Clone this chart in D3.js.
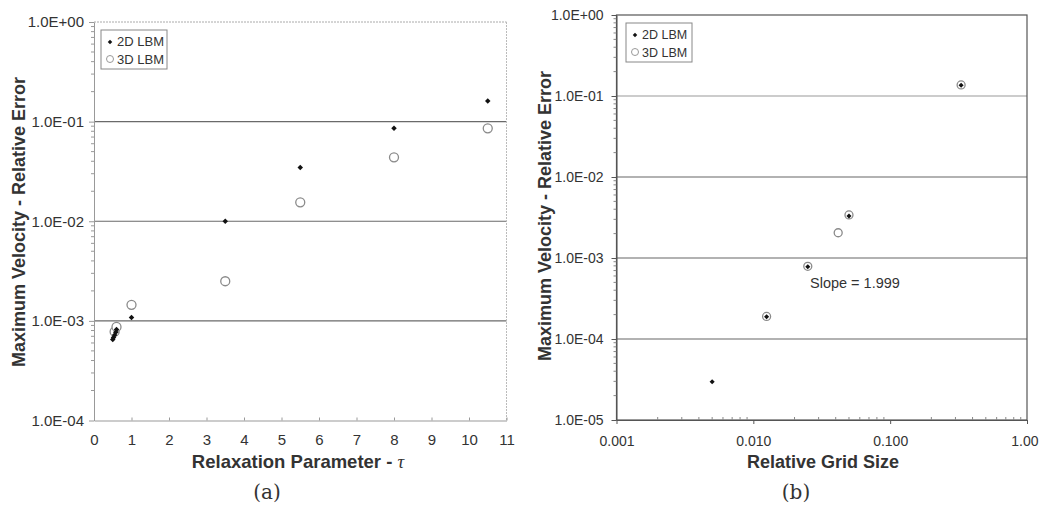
<!DOCTYPE html>
<html>
<head>
<meta charset="utf-8">
<script src="https://cdn.jsdelivr.net/npm/d3@7"></script>
<style>
  body { margin:0; background:#fff; }
  svg text { font-family: Arial, "Liberation Sans", sans-serif; }
</style>
</head>
<body>
<svg id="drawing_region"></svg>
<script>
// (a) error vs relaxation parameter
const tau2D = [0.5, 0.52, 0.55, 0.58, 0.6, 1, 3.5, 5.5, 8, 10.5];
const err2D_a = [0.00065, 0.00068, 0.00072, 0.00077, 0.00082, 0.00108, 0.0100, 0.0347, 0.0857, 0.161];
const tau3D = [0.55, 0.6, 1, 3.5, 5.5, 8, 10.5];
const err3D_a = [0.00078, 0.00087, 0.00145, 0.0025, 0.0155, 0.0438, 0.0857];
const xTicksA = [0,1,2,3,4,5,6,7,8,9,10,11];
const yTicksA = [1e-4, 1e-3, 1e-2, 1e-1, 1];

// (b) error vs relative grid size
const grid2D = [0.005, 0.0125, 0.025, 0.05, 0.33];
const err2D_b = [2.97e-5, 1.88e-4, 7.8e-4, 3.3e-3, 0.1356];
const grid3D = [0.0125, 0.025, 0.0417, 0.05, 0.33];
const err3D_b = [1.9e-4, 7.9e-4, 2.05e-3, 3.4e-3, 0.137];
const xTicksB = [0.001, 0.01, 0.1, 1];
const xTickLabelsB = ["0.001", "0.010", "0.100", "1.00"];
const yTicksB = [1e-5, 1e-4, 1e-3, 1e-2, 1e-1, 1];

const seriesNames = ["2D LBM", "3D LBM"];

const svg = d3.select('#drawing_region')
    .attr('width', 1039)
    .attr('height', 513);

function expLabel(d){
    const e = Math.round(Math.log10(d));
    return "1.0E" + (e >= 0 ? "+" : "-") + String(Math.abs(e)).padStart(2, "0");
}

function minorValues(lo, hi){
    let out = [];
    for (let e = Math.round(Math.log10(lo)); e < Math.round(Math.log10(hi)); e++)
        for (let k = 2; k <= 9; k++) out.push(k * Math.pow(10, e));
    return out;
}

function diamond(g, pts, size){
    g.selectAll('path.d2')
	.data(pts)
	.join('path')
	.attr('class', 'd2')
	.attr('d', d3.symbol(d3.symbolSquare, size)())
	.attr('transform', d => `translate(${d[0]},${d[1]}) rotate(45)`)
	.attr('fill', '#111');
}

function rings(g, pts, r, fill){
    g.selectAll('circle.d3')
	.data(pts)
	.join('circle')
	.attr('class', 'd3')
	.attr('cx', d => d[0])
	.attr('cy', d => d[1])
	.attr('r', r)
	.attr('fill', fill)
	.attr('stroke', '#8a8a8a')
	.attr('stroke-width', 1.3);
}

function legend(g, x, y, fs){
    g.append('rect')
	.attr('x', x).attr('y', y)
	.attr('width', 66).attr('height', 39)
	.attr('fill', '#fff').attr('stroke', '#888');
    g.append('path')
	.attr('d', d3.symbol(d3.symbolSquare, 10)())
	.attr('transform', `translate(${x+9},${y+12}) rotate(45)`)
	.attr('fill', '#111');
    g.append('circle')
	.attr('cx', x+9).attr('cy', y+29).attr('r', 3.5)
	.attr('fill', '#fff').attr('stroke', '#999');
    seriesNames.forEach((s, i) => {
	g.append('text')
	    .attr('x', x+16).attr('y', y+16+i*18)
	    .attr('font-size', fs).attr('fill', '#333')
	    .text(s);
    });
}

// ---------- chart (a) ----------
{
    const g = svg.append('g');
    const x = d3.scaleLinear().domain([0, 11]).range([94, 506.5]);
    const y = d3.scaleLog().domain([1e-4, 1]).range([420.5, 22]);

    // grid lines
    g.selectAll('line.grid')
	.data([1e-3, 1e-2, 1e-1])
	.join('line')
	.attr('x1', x(0)).attr('x2', x(11))
	.attr('y1', d => y(d)).attr('y2', d => y(d))
	.attr('stroke', '#6a6a6a').attr('stroke-width', 1.2);
    // top and right borders (dotted)
    g.append('line')
	.attr('x1', x(0)).attr('x2', x(11)).attr('y1', y(1)).attr('y2', y(1))
	.attr('stroke', '#aaa').attr('stroke-dasharray', '2,1');
    g.append('line')
	.attr('x1', x(11)).attr('x2', x(11)).attr('y1', y(1)).attr('y2', y(1e-4))
	.attr('stroke', '#bbb').attr('stroke-dasharray', '2,1');

    // minor y ticks
    g.selectAll('line.minor')
	.data(minorValues(1e-4, 1))
	.join('line')
	.attr('x1', x(0) - 3).attr('x2', x(0))
	.attr('y1', d => y(d)).attr('y2', d => y(d))
	.attr('stroke', '#999');

    const yaxis = d3.axisLeft(y).tickValues(yTicksA).tickFormat(expLabel).tickSize(5).tickSizeOuter(0).tickPadding(5);
    const xaxis = d3.axisBottom(x).tickValues(xTicksA).tickSize(-3).tickSizeOuter(0).tickPadding(14);

    const ya = g.append('g').attr('transform', `translate(${x(0)},0)`).call(yaxis);
    const xa = g.append('g').attr('transform', `translate(0,${y(1e-4)})`).call(xaxis);
    [ya, xa].forEach(a => {
	a.select('.domain').attr('stroke', '#999');
	a.selectAll('.tick line').attr('stroke', '#999');
	a.selectAll('text').attr('font-size', 15).attr('fill', '#333').attr('font-family', 'Arial, "Liberation Sans", sans-serif');
    });

    rings(g, tau3D.map((t, i) => [x(t), y(err3D_a[i])]), 4.5, '#fff');
    diamond(g, tau2D.map((t, i) => [x(t), y(err2D_a[i])]), 15);

    legend(g, 101, 30, 13);

    g.append('text')
	.attr('transform', 'translate(25,222) rotate(-90)')
	.attr('text-anchor', 'middle')
	.attr('font-size', 18).attr('font-weight', 'bold').attr('fill', '#333')
	.text('Maximum Velocity - Relative Error');

    const xt = g.append('text')
	.attr('x', 298).attr('y', 468)
	.attr('text-anchor', 'middle')
	.attr('font-size', 18.5).attr('font-weight', 'bold').attr('fill', '#333');
    xt.append('tspan').text('Relaxation Parameter - ');
    xt.append('tspan').attr('font-family', '"Liberation Serif", serif').attr('font-style', 'italic').attr('font-weight', 'normal').text('τ');

    g.append('text')
	.attr('x', 267).attr('y', 499)
	.attr('text-anchor', 'middle')
	.attr('font-size', 20).attr('fill', '#333')
	.style('font-family', '"DejaVu Serif", "Liberation Serif", serif')
	.text('(a)');
}

// ---------- chart (b) ----------
{
    const g = svg.append('g');
    const x = d3.scaleLog().domain([0.001, 1]).range([616.5, 1027]);
    const y = d3.scaleLog().domain([1e-5, 1]).range([420, 15]);

    g.selectAll('line.grid')
	.data([1e-4, 1e-3, 1e-2, 1e-1])
	.join('line')
	.attr('x1', x(0.001)).attr('x2', x(1))
	.attr('y1', d => y(d)).attr('y2', d => y(d))
	.attr('stroke', d => d === 1e-1 ? '#9a9a9a' : '#666').attr('stroke-width', 1.2);

    // frame
    g.append('rect')
	.attr('x', x(0.001)).attr('y', y(1))
	.attr('width', x(1) - x(0.001)).attr('height', y(1e-5) - y(1))
	.attr('fill', 'none').attr('stroke', '#555').attr('stroke-width', 1.2);

    g.selectAll('line.minory')
	.data(minorValues(1e-5, 1))
	.join('line')
	.attr('x1', x(0.001) - 3).attr('x2', x(0.001))
	.attr('y1', d => y(d)).attr('y2', d => y(d))
	.attr('stroke', '#888');
    g.selectAll('line.minorx')
	.data(minorValues(0.001, 1))
	.join('line')
	.attr('x1', d => x(d)).attr('x2', d => x(d))
	.attr('y1', y(1e-5)).attr('y2', y(1e-5) - 3)
	.attr('stroke', '#888');

    const yaxis = d3.axisLeft(y).tickValues(yTicksB).tickFormat(expLabel).tickSize(5).tickSizeOuter(0).tickPadding(8);
    const xaxis = d3.axisBottom(x).tickValues(xTicksB).tickFormat((d, i) => xTickLabelsB[i]).tickSize(4).tickSizeOuter(0).tickPadding(12);

    const ya = g.append('g').attr('transform', `translate(${x(0.001)},0)`).call(yaxis);
    const xa = g.append('g').attr('transform', `translate(0,${y(1e-5)})`).call(xaxis);
    [ya, xa].forEach(a => {
	a.select('.domain').attr('stroke', '#555');
	a.selectAll('.tick line').attr('stroke', '#555');
	a.selectAll('text').attr('font-size', 14).attr('fill', '#333').attr('font-family', 'Arial, "Liberation Sans", sans-serif');
    });
    // last label sits against the page edge
    xa.selectAll('.tick text').filter(d => d === 1)
	.attr('text-anchor', 'end').attr('x', 1038 - x(1));

    rings(g, grid3D.map((t, i) => [x(t), y(err3D_b[i])]), 4, '#fff');
    diamond(g, grid2D.map((t, i) => [x(t), y(err2D_b[i])]), 13);

    legend(g, 626, 23, 12.5);

    g.append('text')
	.attr('x', 810).attr('y', 288)
	.attr('font-size', 14.5).attr('fill', '#333')
	.text('Slope = 1.999');

    g.append('text')
	.attr('transform', 'translate(551,216) rotate(-90)')
	.attr('text-anchor', 'middle')
	.attr('font-size', 18).attr('font-weight', 'bold').attr('fill', '#333')
	.text('Maximum Velocity - Relative Error');

    g.append('text')
	.attr('x', 823).attr('y', 468)
	.attr('text-anchor', 'middle')
	.attr('font-size', 18).attr('font-weight', 'bold').attr('fill', '#333')
	.text('Relative Grid Size');

    g.append('text')
	.attr('x', 796).attr('y', 499)
	.attr('text-anchor', 'middle')
	.attr('font-size', 20).attr('fill', '#333')
	.style('font-family', '"DejaVu Serif", "Liberation Serif", serif')
	.text('(b)');
}
</script>
</body>
</html>
